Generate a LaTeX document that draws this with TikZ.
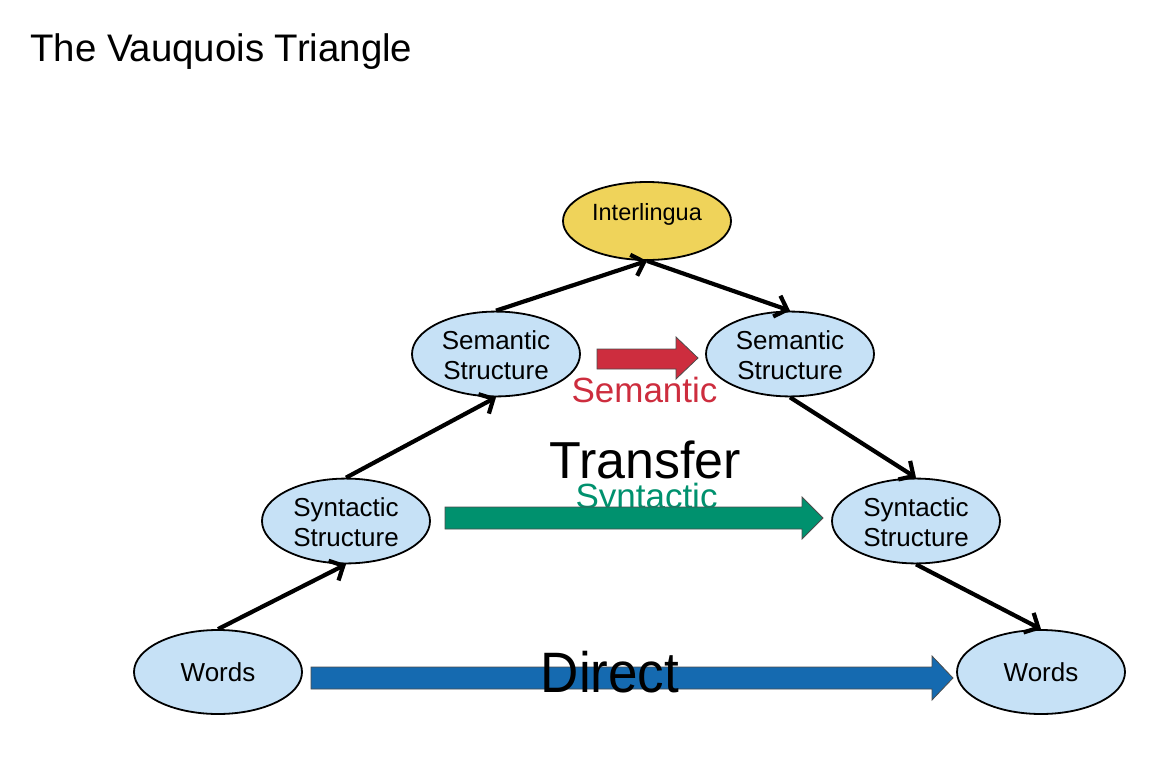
\documentclass[tikz,border=0pt]{standalone}
\usepackage{fontspec}
\setmainfont{Liberation Sans}
\usetikzlibrary{shapes.geometric,arrows.meta}
\definecolor{lblue}{RGB}{198,225,246}
\definecolor{gold}{RGB}{239,211,90}
\definecolor{dblue}{RGB}{21,106,176}
\definecolor{dgreen}{RGB}{0,145,110}
\definecolor{dred}{RGB}{205,45,62}
\newcommand\elltext[2]{\raisebox{#1}[\height][\depth]{\begin{tabular}{@{}c@{}}#2\end{tabular}}}
\begin{document}
\begin{tikzpicture}[x=1pt,y=-1pt,
  ell/.style={ellipse, draw=black, line width=1.8pt, fill=lblue,
    minimum width=168pt, minimum height=84pt, inner sep=0pt, align=center,
    font=\fontsize{26}{30}\selectfont},
  conn/.style={line width=4.2pt, -{Straight Barb[length=11pt,width=22pt]}},
  blockarrow/.style={draw=black!70, line width=0.8pt},
  lbl/.style={anchor=base, inner sep=0pt}]
\useasboundingbox (0,0) rectangle (1162,779);
\node[lbl, anchor=base west, font=\fontsize{38.4}{44}\selectfont] (title) at (30,61) {The Vauquois Triangle};

\node[ell, fill=gold, minimum height=78pt, font=\fontsize{23.5}{28}\selectfont] (inter) at (647,221) {\elltext{6pt}{Interlingua}};
\node[ell] (semL) at (496,354) {\elltext{-4pt}{Semantic\\Structure}};
\node[ell] (semR) at (790,354) {\elltext{-4pt}{Semantic\\Structure}};
\node[ell] (synL) at (346,521) {\elltext{-4pt}{Syntactic\\Structure}};
\node[ell] (synR) at (916,521) {\elltext{-4pt}{Syntactic\\Structure}};
\node[ell] (wL) at (218,672) {\elltext{-3pt}{Words}};
\node[ell] (wR) at (1041,672) {\elltext{-3pt}{Words}};

\draw[conn] (wL.north) -- (synL.south);
\draw[conn] (synL.north) -- (semL.south);
\draw[conn] (semL.north) -- (inter.south);
\draw[conn] (inter.south) -- (semR.north);
\draw[conn] (semR.south) -- (synR.north);
\draw[conn] (synR.south) -- (wR.north);

% semantic transfer
\draw[blockarrow, fill=dred] (597,349) -- (676,349) -- (676,337) -- (698,358) -- (676,379) -- (676,369) -- (597,369) -- cycle;
\node[lbl, text=dred, font=\fontsize{35}{40}\selectfont] (semtxt) at (644.5,402) {Semantic};

% transfer label
\node[lbl, font=\fontsize{52}{60}\selectfont] (transfer) at (645,478) {Transfer};

% syntactic transfer
\node[lbl, text=dgreen, font=\fontsize{35}{40}\selectfont] (syntxt) at (646.5,508) {Syntactic};
\draw[blockarrow, fill=dgreen] (445,507) -- (802,507) -- (802,497) -- (823,518) -- (802,539) -- (802,529) -- (445,529) -- cycle;

% direct
\draw[blockarrow, fill=dblue] (311,667) -- (932,667) -- (932,656) -- (953,678) -- (932,700) -- (932,689) -- (311,689) -- cycle;
\node[lbl, font=\fontsize{57}{64}\selectfont] (direct) at (610,692) {\scalebox{0.93}[1]{Direct}};
\end{tikzpicture}
\end{document}
